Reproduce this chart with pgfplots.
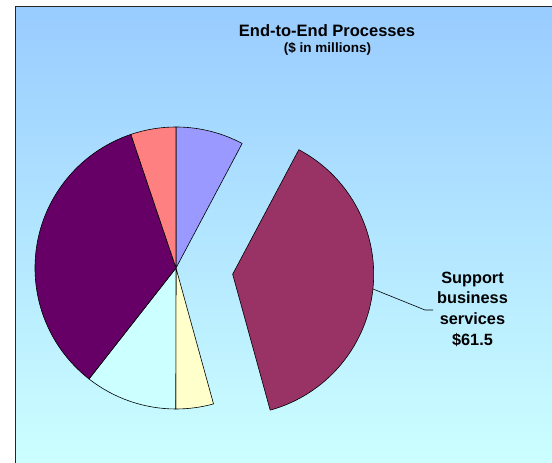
\documentclass[border=0pt]{standalone}
\usepackage{pgfplots}
\pgfplotsset{compat=1.18}
\usepackage{pgfplotstable}
\usepackage{fontspec}
\setmainfont{Liberation Sans}
\definecolor{pc0}{HTML}{9999FF}
\definecolor{pc1}{HTML}{993366}
\definecolor{pc2}{HTML}{FFFFCC}
\definecolor{pc3}{HTML}{CCFFFF}
\definecolor{pc4}{HTML}{660066}
\definecolor{pc5}{HTML}{FF8080}
\definecolor{bgtop}{HTML}{99CCFF}
\definecolor{bgbot}{HTML}{CCFFFF}
% $ in millions, clockwise from 12 o'clock
\pgfplotstableread{
value explode
12.6 0
61.5 1
7.0 0
17.1 0
55.5 0
8.4 0
}\piedata
\begin{document}
\begin{tikzpicture}
\begin{axis}[
  x=1pt, y=1pt,
  xmin=0, xmax=552, ymin=0, ymax=463,
  hide axis, clip=false,
  anchor=origin, at={(0,0)},
]
\coordinate (bl) at (axis cs:0,0);
\coordinate (tr) at (axis cs:552,463);
\fill[white] (axis cs:0,0) rectangle (axis cs:552,463);
\shade[top color=bgtop, bottom color=bgbot] (axis cs:15,0) rectangle (axis cs:552,456);
\draw[black!85, line width=1pt] (axis cs:15,0) -- (axis cs:15,456) -- (axis cs:552,456);
\node[font=\bfseries\fontsize{16.5}{19}\selectfont] at (axis cs:327,432.5) {End-to-End Processes};
\node[font=\bfseries\fontsize{13.5}{15}\selectfont] at (axis cs:327.5,414) {(\$ in millions)};
% total
\def\total{0}
\pgfplotsforeachungrouped \i in {0,...,5}{%
  \pgfplotstablegetelem{\i}{value}\of\piedata
  \pgfmathsetmacro\total{\total+\pgfplotsretval}%
}
\def\cum{0}
\pgfplotsforeachungrouped \i in {0,...,5}{%
  \pgfplotstablegetelem{\i}{value}\of\piedata \let\v\pgfplotsretval
  \pgfplotstablegetelem{\i}{explode}\of\piedata \let\ex\pgfplotsretval
  \pgfmathsetmacro\sa{90-\cum/\total*360}%
  \pgfmathsetmacro\ea{90-(\cum+\v)/\total*360}%
  \pgfmathsetmacro\md{(\sa+\ea)/2}%
  \pgfmathsetmacro\cx{176+\ex*57*cos(\md)}%
  \pgfmathsetmacro\cy{195+\ex*57*sin(\md)}%
  \edef\cmd{\noexpand\filldraw[fill=pc\i, draw=black, line width=0.6pt, line join=round] (axis cs:\cx,\cy) -- ++(\sa:141pt) arc[start angle=\sa, end angle=\ea, radius=141pt] -- cycle;}%
  \cmd
  \pgfmathsetmacro\cum{\cum+\v}%
}
\draw[black, line width=0.6pt] (axis cs:373,174) -- (axis cs:425,153) -- (axis cs:433,153);
\node[font=\bfseries\fontsize{16.3}{20.7}\selectfont, align=center] at (axis cs:472.5,154) {Support\\business\\services\\\$61.5};
\end{axis}
\pgfresetboundingbox
\path[use as bounding box] (bl) rectangle (tr);
\end{tikzpicture}
\end{document}
